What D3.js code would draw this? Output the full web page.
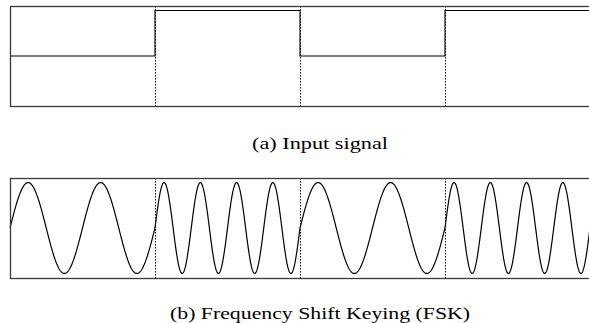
<!DOCTYPE html>
<html><head><meta charset="utf-8">
<script src="https://cdn.jsdelivr.net/npm/d3@7"></script>
<style>html,body{margin:0;padding:0;background:#fff;}svg{display:block;}</style>
</head><body>
<svg id="chart" width="589" height="323"></svg>
<script>
// Data
const bits = [0, 1, 0, 1];                 // input bit per symbol slot
const cyclesPerBit = [2, 4];               // FSK: cycles per slot for bit 0 / bit 1
const captions = ["(a) Input signal", "(b) Frequency Shift Keying (FSK)"];
const yDomain = [-1.1, 1.1];

const svg = d3.select("#chart");
const x = d3.scaleLinear().domain([0, bits.length]).range([10, 590]);
const yA = d3.scaleLinear().domain(yDomain).range([106, 6]);
const yB = d3.scaleLinear().domain(yDomain).range([278, 178]);

function frame(y) {
  const g = svg.append("g");
  g.selectAll("line.div").data(d3.range(1, bits.length)).join("line")
    .attr("x1", d => x(d) + 0.5).attr("x2", d => x(d) + 0.5)
    .attr("y1", y.range()[1]).attr("y2", y.range()[0])
    .attr("stroke", "#000").attr("stroke-width", 1).attr("stroke-dasharray", "1.5,1.5");
  return g;
}
function border(y) {
  svg.append("rect")
    .attr("x", x.range()[0] + 0.5).attr("y", y.range()[1] + 0.5)
    .attr("width", x.range()[1] - x.range()[0]).attr("height", y.range()[0] - y.range()[1])
    .attr("fill", "none").attr("stroke", "#3a3a3a").attr("stroke-width", 1.3);
}

// Panel (a): step signal
const gA = frame(yA);
const stepPts = [];
bits.forEach((b, i) => { stepPts.push([i, b]); stepPts.push([i + 1, b]); });
gA.append("path").datum(stepPts)
  .attr("d", d3.line().x(d => x(d[0])).y(d => yA(d[1])))
  .attr("fill", "none").attr("stroke", "#000").attr("stroke-width", 1.1);
border(yA);

// Panel (b): FSK waveform
const gB = frame(yB);
const wave = [];
bits.forEach((b, i) => {
  const c = cyclesPerBit[b];
  for (let k = 0; k <= 400; k++) {
    const t = k / 400;
    wave.push([i + t, Math.sin(2 * Math.PI * c * t)]);
  }
});
gB.append("path").datum(wave)
  .attr("d", d3.line().x(d => x(d[0])).y(d => yB(d[1])))
  .attr("fill", "none").attr("stroke", "#000").attr("stroke-width", 1.2);
border(yB);

// Captions
const capY = [148.5, 318.5];
const capW = [136, 300];
captions.forEach((c, i) => {
  svg.append("text").text(c)
    .attr("x", 320).attr("y", capY[i]).attr("text-anchor", "middle")
    .attr("font-family", "'Liberation Serif', 'Times New Roman', serif")
    .attr("font-size", 16).attr("fill", "#000")
    .attr("textLength", capW[i]).attr("lengthAdjust", "spacingAndGlyphs");
});
</script>
</body></html>
